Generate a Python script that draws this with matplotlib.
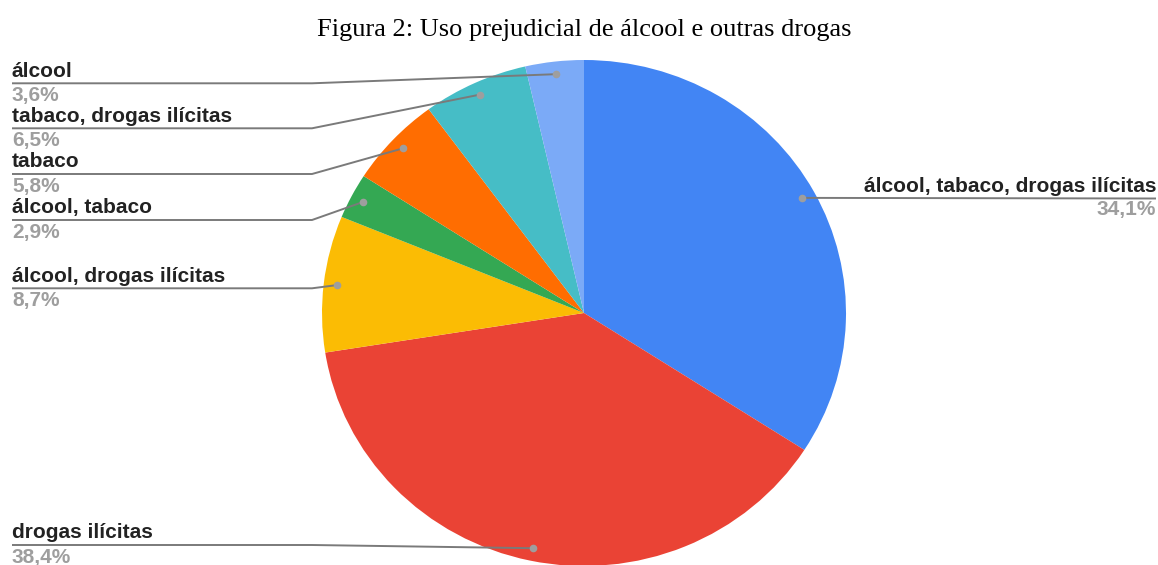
import numpy as np
import matplotlib.pyplot as plt

# data (clockwise from 12 o'clock)
labels = ["álcool, tabaco, drogas ilícitas", "drogas ilícitas", "álcool, drogas ilícitas",
          "álcool, tabaco", "tabaco", "tabaco, drogas ilícitas", "álcool"]
values = [34.1, 38.4, 8.7, 2.9, 5.8, 6.5, 3.6]
pct_text = ["34,1%", "38,4%", "8,7%", "2,9%", "5,8%", "6,5%", "3,6%"]
colors = ["#4285F4", "#EA4335", "#FBBC04", "#34A853", "#FF6D01", "#46BDC6", "#7BAAF7"]

# label layout (pixel y of the underline, side)
line_y = [198.5, 545, 288.3, 220, 174, 128.3, 83.3]
side = ["right", "left", "left", "left", "left", "left", "left"]

W, H = 1158, 565
cx, cy, rx, ry = 584, 313, 262, 253

fig = plt.figure(figsize=(W / 100, H / 100), dpi=100)
pax = fig.add_axes([(cx - rx) / W, (H - cy - ry) / H, 2 * rx / W, 2 * ry / H])
wedges, _ = pax.pie(values, colors=colors, startangle=90, counterclock=False,
                    wedgeprops=dict(linewidth=0, edgecolor="none"))
pax.set_aspect("auto")
pax.set_xlim(-1, 1)
pax.set_ylim(-1, 1)

ax = fig.add_axes([0, 0, 1, 1])
ax.set_xlim(0, W)
ax.set_ylim(H, 0)
ax.axis("off")

to_pix = pax.transData + ax.transData.inverted()
font = dict(family="Liberation Sans", weight="bold", size=15)
line_col = "#7a7a7a"

for w, name, pct, ly, s in zip(wedges, labels, pct_text, line_y, side):
    mid = np.deg2rad((w.theta1 + w.theta2) / 2)
    dx, dy = to_pix.transform((0.95 * np.cos(mid), 0.95 * np.sin(mid)))
    if s == "left":
        ax.plot([12, 312, dx], [ly, ly, dy], color=line_col, lw=1.4, solid_capstyle="butt")
        ax.text(12, ly - 6.7, name, ha="left", va="baseline", color="#222222", **font)
        ax.text(12, ly + 18, pct, ha="left", va="baseline", color="#9e9e9e", **font)
    else:
        ax.plot([dx, 1156], [dy, ly], color=line_col, lw=1.4, solid_capstyle="butt")
        ax.text(1156, ly - 6.7, name, ha="right", va="baseline", color="#222222", **font)
        ax.text(1156, ly + 17, pct, ha="right", va="baseline", color="#9e9e9e", **font)
    ax.plot(dx, dy, "o", color="#9e9e9e", ms=5.5, mec="none")

ax.text(584, 36, "Figura 2: Uso prejudicial de álcool e outras drogas", ha="center",
        va="baseline", family="Liberation Serif", size=19, color="#000000")

fig.savefig("out.png", dpi=100)
